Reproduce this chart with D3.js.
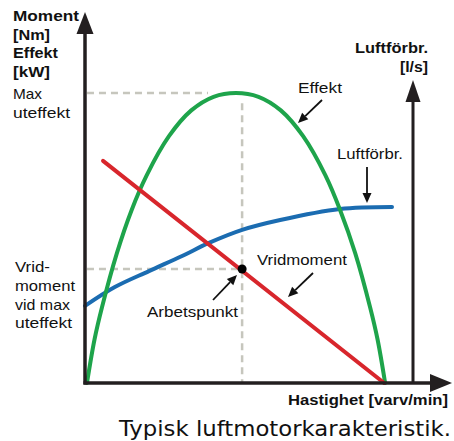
<!DOCTYPE html>
<html>
<head>
<meta charset="utf-8">
<script src="https://cdn.jsdelivr.net/npm/d3@7"></script>
<style>
  html, body { margin: 0; padding: 0; background: #fff; }
  svg { display: block; }
  text { fill: #111; }
</style>
</head>
<body>
<svg id="chart" width="454" height="441"></svg>
<script>
// hastighet (0-100) mot effekt, vridmoment och luftförbrukning (relativa värden)
const effektSpeed = [0.6, 2.9, 5.2, 9.7, 14.2, 18.8, 25.6, 32.4, 39.2, 46.0, 52.9, 59.7, 66.5, 73.3, 77.8, 82.4, 86.9, 89.2, 91.5];
const effekt      = [0, 15, 26.2, 44.7, 59.6, 71.6, 85.1, 94, 98.7, 100, 98.7, 94, 85.1, 71.6, 59.6, 44.7, 26.2, 15, 0];

const momentSpeed = [5.5, 91.2];
const moment      = [76.6, 0];

const luftSpeed = [0, 9.1, 19.5, 29.6, 37.8, 47.9, 59.5, 77.7, 93.6];
const luft      = [26.6, 33.1, 38.6, 43.8, 48.3, 52.8, 56.2, 60, 60.7];

const arbetspunkt = [47.9, 39.3];   // [hastighet, vridmoment]
const maxEffekt = 100;

const svg = d3.select("#chart");

const x = d3.scaleLinear().domain([0, 100]).range([85, 413]);
const y = d3.scaleLinear().domain([0, 100]).range([383, 93]);

const axisColor = "#231f20";
const dashColor = "#c6c6bd";
const sans = "'Liberation Sans', Arial, sans-serif";

// hjälplinjer (streckade)
function dashed(x1, y1, x2, y2) {
  svg.append("line")
    .attr("x1", x(x1)).attr("y1", y(y1))
    .attr("x2", x(x2)).attr("y2", y(y2))
    .attr("stroke", dashColor)
    .attr("stroke-width", 2.5)
    .attr("stroke-dasharray", "7,5");
}
dashed(0.6, maxEffekt, 37.5, maxEffekt);
dashed(arbetspunkt[0], 96.5, arbetspunkt[0], 0);
dashed(0.6, arbetspunkt[1], arbetspunkt[0], arbetspunkt[1]);

// kurvor
function curve(xs, ys, color) {
  const pts = xs.map((d, i) => [d, ys[i]]);
  const line = d3.line()
    .x(d => x(d[0]))
    .y(d => y(d[1]))
    .curve(d3.curveCatmullRom.alpha(0.5));
  svg.append("path")
    .datum(pts)
    .attr("d", line)
    .attr("fill", "none")
    .attr("stroke", color)
    .attr("stroke-width", 4)
    .attr("stroke-linecap", "round");
}
curve(luftSpeed, luft, "#1b6cb1");
curve(effektSpeed, effekt, "#1ea44b");
curve(momentSpeed, moment, "#d8262c");

// axlar
svg.append("line")
  .attr("x1", x(0)).attr("y1", y(0) + 1.5)
  .attr("x2", x(0)).attr("y2", 30)
  .attr("stroke", axisColor).attr("stroke-width", 3.5);
svg.append("polygon")
  .attr("points", [[x(0), 12], [x(0) - 8.5, 34], [x(0) + 8.5, 34]].join(" "))
  .attr("fill", axisColor);

svg.append("line")
  .attr("x1", x(100)).attr("y1", y(0))
  .attr("x2", x(100)).attr("y2", 100)
  .attr("stroke", axisColor).attr("stroke-width", 3);
svg.append("polygon")
  .attr("points", [[x(100), 80], [x(100) - 7.5, 102], [x(100) + 7.5, 102]].join(" "))
  .attr("fill", axisColor);

svg.append("line")
  .attr("x1", x(0) - 1.5).attr("y1", y(0))
  .attr("x2", 432).attr("y2", y(0))
  .attr("stroke", axisColor).attr("stroke-width", 3.5);
svg.append("polygon")
  .attr("points", [[452, y(0)], [430, y(0) - 9], [430, y(0) + 9]].join(" "))
  .attr("fill", axisColor);

// arbetspunkt
svg.append("circle")
  .attr("cx", x(arbetspunkt[0])).attr("cy", y(arbetspunkt[1]))
  .attr("r", 4.5).attr("fill", "#000");

// pilar till etiketterna
function arrow(x1, y1, x2, y2) {
  const a = Math.atan2(y2 - y1, x2 - x1);
  const len = 10, w = 4.5;
  const bx = x2 - len * Math.cos(a), by = y2 - len * Math.sin(a);
  svg.append("line")
    .attr("x1", x1).attr("y1", y1).attr("x2", bx).attr("y2", by)
    .attr("stroke", "#111").attr("stroke-width", 1.8);
  svg.append("polygon")
    .attr("points", [
      [x2, y2],
      [bx + w * Math.sin(a), by - w * Math.cos(a)],
      [bx - w * Math.sin(a), by + w * Math.cos(a)]
    ].join(" "))
    .attr("fill", "#111");
}
arrow(322, 100, 298, 123);
arrow(367, 167, 367, 203);
arrow(313, 273, 288, 297);
arrow(213, 300, 237, 275);

// texter
function label(t, px, py, opts) {
  const o = Object.assign({ size: 15, bold: false, anchor: "start", w: null, font: sans }, opts);
  const el = svg.append("text")
    .attr("x", px).attr("y", py)
    .attr("font-family", o.font)
    .attr("font-size", o.size)
    .attr("font-weight", o.bold ? "bold" : "normal")
    .attr("text-anchor", o.anchor)
    .text(t);
  if (o.w) el.attr("textLength", o.w).attr("lengthAdjust", "spacingAndGlyphs");
  return el;
}

label("Moment", 13, 21, { size: 14, bold: true, w: 66 });
label("[Nm]", 13, 40, { size: 14, bold: true, w: 37 });
label("Effekt", 13, 58, { size: 14, bold: true, w: 45 });
label("[kW]", 13, 77, { size: 14, bold: true, w: 37 });

label("Max", 13, 99, { w: 29 });
label("uteffekt", 13, 118, { w: 57 });

label("Vrid-", 15, 272, { w: 35 });
label("moment", 15, 291, { w: 60 });
label("vid max", 15, 310, { w: 55 });
label("uteffekt", 15, 328, { w: 57 });

label("Luftförbr.", 428, 53, { size: 14, bold: true, anchor: "end", w: 73 });
label("[l/s]", 428, 72, { size: 14, bold: true, anchor: "end", w: 28 });

label("Effekt", 298, 93, { w: 44 });
label("Luftförbr.", 337, 159, { w: 66 });
label("Vridmoment", 257, 265, { w: 90 });
label("Arbetspunkt", 147, 317, { w: 91 });

label("Hastighet [varv/min]", 448, 405, { size: 14, bold: true, anchor: "end", w: 160 });

label("Typisk luftmotorkarakteristik.", 451, 436,
  { size: 22, anchor: "end", w: 332, font: "'DejaVu Sans', Verdana, sans-serif" });
</script>
</body>
</html>
